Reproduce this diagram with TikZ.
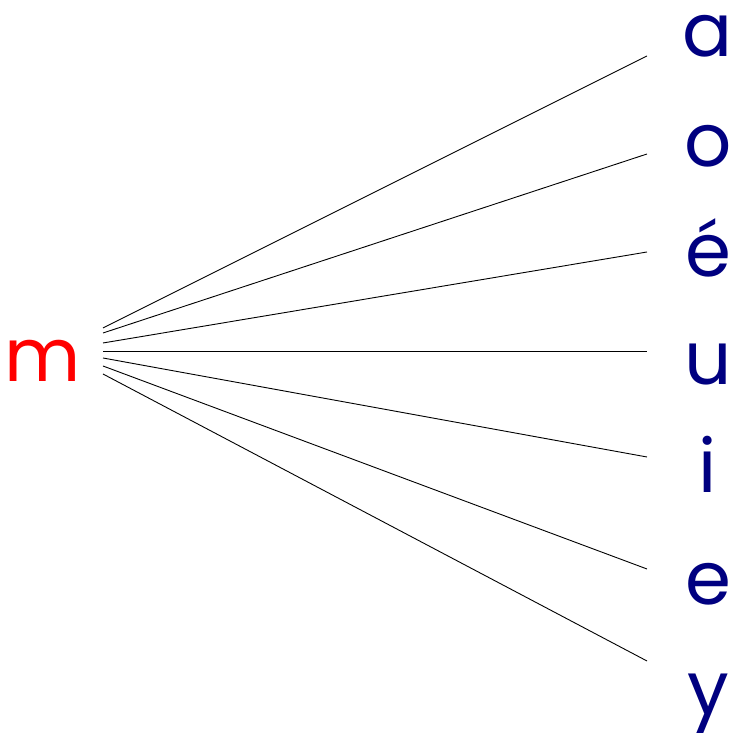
\documentclass[tikz,border=0pt]{standalone}
\usepackage{fontspec}
\setmainfont{Poppins}
\usepackage{xcolor}
\definecolor{consonant}{HTML}{FF0000}
\definecolor{vowelblue}{HTML}{000080}
\tikzset{
  glyph/.style={font=\fontsize{74}{74}\selectfont,inner sep=0pt,anchor=base},
  cons/.style={glyph,text=consonant},
  vowel/.style={glyph,text=vowelblue},
  link/.style={draw=black,line width=0.9pt}
}
\begin{document}
\begin{tikzpicture}[x=1pt,y=1pt]
\useasboundingbox (0,0) rectangle (731,733);
\node[cons] (m) at (43,351) {m};
% syllables: name / letter / baseline / start y / end y
\foreach \nm/\txt/\base/\sy/\ey in {a/a/676/405/677, o/o/566/400/579, e1/é/456/390/481, u/u/348/382/382, i/i/240/375/276, e/e/128/367/164, y/y/18/359/72}{
  \node[vowel] (\nm) at (708,\base) {\txt};
  \coordinate (\nm-from) at (103,\sy);
  \coordinate (\nm-to) at (647,\ey);
  \draw[link] (\nm-from) -- (\nm-to);
}
\end{tikzpicture}
\end{document}
